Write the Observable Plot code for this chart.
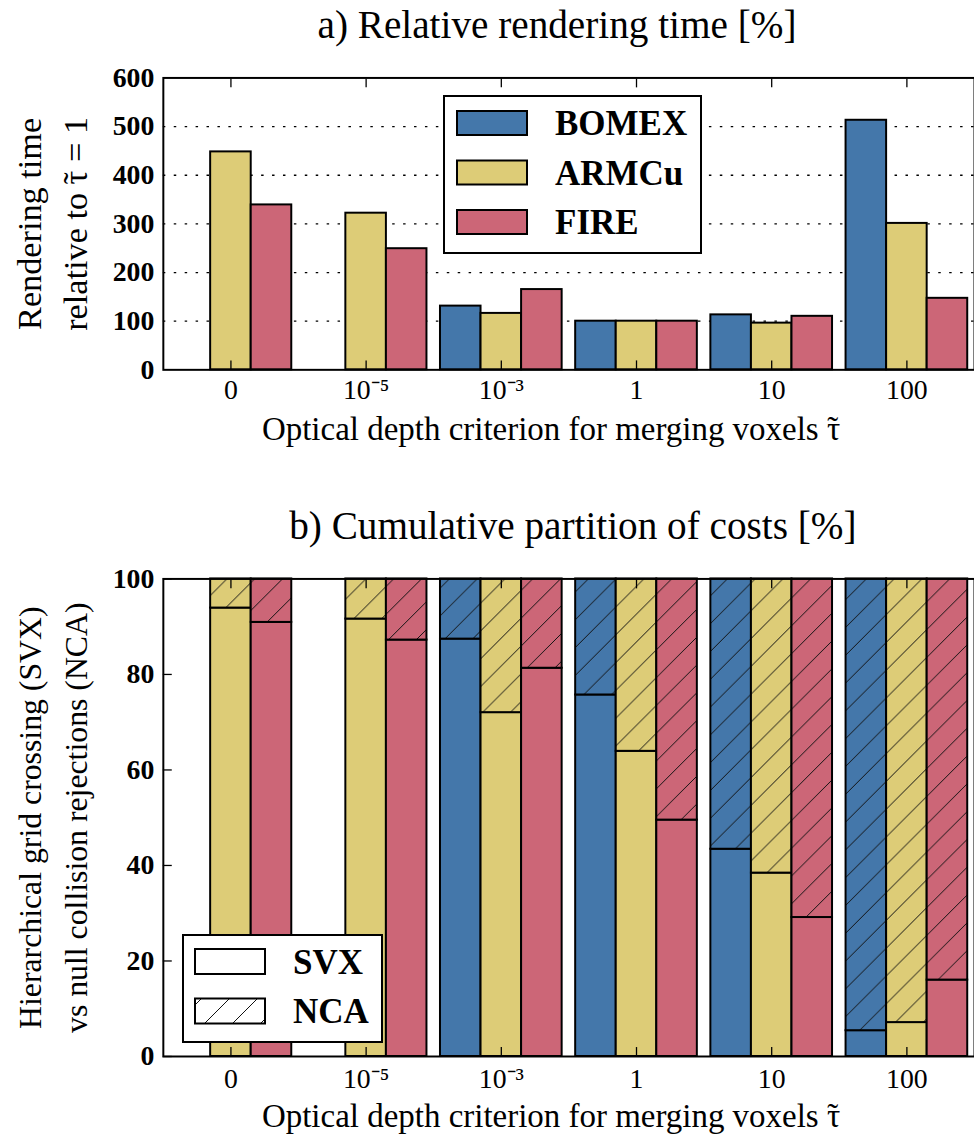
<!DOCTYPE html>
<html><head><meta charset="utf-8">
<script src="https://cdn.jsdelivr.net/npm/d3@7"></script>
<script src="https://cdn.jsdelivr.net/npm/@observablehq/plot@0.6"></script>
<style>
html,body{margin:0;padding:0;overflow:hidden;background:#fff;}
#page{position:relative;width:974px;height:1142px;overflow:hidden;font-family:"Liberation Serif",serif;color:#000;}
#page svg, #page svg text{font-family:"Liberation Serif",serif !important;}
.abs{position:absolute;left:0;}
</style></head><body><div id="page">
<svg id="defs" width="0" height="0" style="position:absolute;left:0;top:0"></svg>
<div id="chartA" class="abs" style="top:0"></div>
<div id="chartB" class="abs" style="top:500px"></div>
<div id="legendA" class="abs"></div>
<div id="legendB" class="abs"></div>
</div>
<script>
// ---------- data ----------
const categories = ["0", "10⁻⁵", "10⁻³", "1", "10", "100"];
const seriesNames = ["BOMEX", "ARMCu", "FIRE"];
const seriesColors = ["#4477AA", "#DDCC77", "#CC6677"];

// a) relative rendering time [%]
const timeBOMEX = [null, null, 131, 100, 113, 513];
const timeARMCu = [448, 322, 116, 100, 96, 301];
const timeFIRE  = [339, 249, 165, 100, 110, 147];

// b) SVX share [%] (rest up to 100 is NCA)
const svxBOMEX = [null, null, 87.4, 75.7, 43.4, 5.4];
const svxARMCu = [93.9, 91.6, 72.0, 63.9, 38.4, 7.1];
const svxFIRE  = [90.9, 87.2, 81.3, 49.5, 29.1, 16.0];
const totalShare = 100;

const partNames = ["SVX", "NCA"];
const yTicksA = [0, 100, 200, 300, 400, 500, 600];
const gridTicksA = [100, 200, 300, 400, 500];
const yTicksB = [0, 20, 40, 60, 80, 100];

const titleA = "a) Relative rendering time [%]";
const titleB = "b) Cumulative partition of costs [%]";
const xLabel = "Optical depth criterion for merging voxels τ̃";
const yLabelA = "Rendering time\nrelative to τ̃ = 1";
const yLabelB = "Hierarchical grid crossing (SVX)\nvs null collision rejections (NCA)";

// ---------- helpers ----------
const FONT = "Liberation Serif, serif";
const barWidth = 0.3;
const catIdx = d3.range(categories.length);
const barX1 = d => d.ci + (d.si - 1) * barWidth - barWidth / 2;
const barX2 = d => d.ci + (d.si - 1) * barWidth + barWidth / 2;

// hatch patterns
const H = 28;
const defs = d3.select("#defs").append("defs");
[...seriesColors, "#ffffff"].forEach((c, i) => {
  const p = defs.append("pattern").attr("id", "hatch" + i)
    .attr("patternUnits", "userSpaceOnUse").attr("width", H).attr("height", H);
  p.append("rect").attr("width", H).attr("height", H).attr("fill", c);
  p.append("path").attr("d", `M0,${H}L${H},0M${-H/2},${H/2}L${H/2},${-H/2}M${H/2},${H*1.5}L${H*1.5},${H/2}`)
    .attr("stroke", "#111").attr("stroke-width", 1);
});

// place the combining tilde over tau (font lacks mark positioning)
function fixTilde(root) {
  const NS = "http://www.w3.org/2000/svg";
  root.querySelectorAll("text, tspan").forEach(el => {
    if (el.childNodes.length !== 1 || el.firstChild.nodeType !== 3) return;
    const s = el.textContent;
    const k = s.indexOf("τ\u0303");
    if (k < 0) return;
    el.textContent = "";
    el.appendChild(document.createTextNode(s.slice(0, k + 1)));
    const t = document.createElementNS(NS, "tspan");
    t.setAttribute("dx", "-0.39em");
    t.textContent = "\u02DC";
    el.appendChild(t);
    const rest = s.slice(k + 2);
    if (rest) {
      const r = document.createElementNS(NS, "tspan");
      r.setAttribute("dx", "0.06em");
      r.textContent = rest;
      el.appendChild(r);
    }
  });
}

const common = {
  width: 981,
  marginLeft: 164,
  marginRight: 0,
  style: {fontFamily: FONT, fontSize: "28px", color: "#000", background: "transparent", overflow: "visible"},
  x: {type: "linear", domain: [-0.5, 5.5], axis: null},
};

function xAxes(pad) {
  return [
    Plot.axisX({ticks: catIdx, tickFormat: i => categories[i], tickSize: 0, tickPadding: pad, label: null, fontSize: 28, fontFamily: FONT}),
    Plot.axisX({ticks: catIdx, tickFormat: () => "", tickSize: -9, strokeWidth: 1.3, label: null}),
    Plot.axisX({anchor: "top", ticks: catIdx, tickFormat: () => "", tickSize: -9, strokeWidth: 1.3, label: null}),
  ];
}
function labels(title, ylab, ySize, titleDx) {
  return [
    Plot.text([title], {frameAnchor: "top", dx: titleDx, dy: -40, lineAnchor: "bottom", fontSize: 39.5, fontFamily: FONT}),
    Plot.text([xLabel], {frameAnchor: "bottom", dx: -18, dy: 71, lineAnchor: "bottom", fontSize: 33.2, fontFamily: FONT}),
    Plot.text([ylab], {frameAnchor: "left", rotate: -90, dx: -115, lineHeight: 46 / ySize, fontSize: ySize, fontFamily: FONT, textAnchor: "middle", lineAnchor: "middle"}),
  ];
}

// ---------- chart A ----------
const timeSeries = [timeBOMEX, timeARMCu, timeFIRE];
const timeRows = seriesNames.flatMap((s, si) => categories.map((c, ci) => ({ci, si, value: timeSeries[si][ci]})))
  .filter(d => d.value != null);

const chartA = Plot.plot({
  ...common,
  height: 452, marginTop: 78, marginBottom: 80,
  y: {domain: [0, 600], axis: null},
  color: {type: "identity"},
  marks: [
    Plot.gridY({ticks: gridTicksA, stroke: "#000", strokeOpacity: 1, strokeWidth: 1.3, strokeDasharray: "2.5,8.5"}),
    Plot.rectY(timeRows, {x1: barX1, x2: barX2, y1: 0, y2: "value", fill: d => seriesColors[d.si], stroke: "#000", strokeWidth: 2}),
    ...xAxes(9),
    Plot.axisY({ticks: yTicksA, tickSize: 0, tickPadding: 9, fontWeight: "bold", fontSize: 28, fontFamily: FONT, label: null}),
    Plot.frame({stroke: "#000", strokeWidth: 2}),
    ...labels(titleA, yLabelA, 34.5, -12),
  ]
});
document.getElementById("chartA").append(chartA);
fixTilde(chartA);

// ---------- chart B ----------
const svxSeries = [svxBOMEX, svxARMCu, svxFIRE];
const partRows = seriesNames.flatMap((s, si) => categories.flatMap((c, ci) => {
  const v = svxSeries[si][ci];
  if (v == null) return [];
  return [
    {ci, si, part: partNames[0], lo: 0, hi: v, fill: seriesColors[si]},
    {ci, si, part: partNames[1], lo: v, hi: totalShare, fill: `url(#hatch${si})`},
  ];
}));

const chartB = Plot.plot({
  ...common,
  height: 642, marginTop: 79, marginBottom: 82,
  y: {domain: [0, 100], axis: null},
  color: {type: "identity"},
  marks: [
    Plot.rectY(partRows, {x1: barX1, x2: barX2, y1: "lo", y2: "hi", fill: "fill", stroke: "#000", strokeWidth: 2}),
    ...xAxes(12),
    Plot.axisY({ticks: yTicksB, tickSize: 0, tickPadding: 9, fontWeight: "bold", fontSize: 28, fontFamily: FONT, label: null}),
    Plot.axisY({ticks: yTicksB, tickFormat: () => "", tickSize: -9, strokeWidth: 1.3, label: null}),
    Plot.frame({stroke: "#000", strokeWidth: 2}),
    ...labels(titleB, yLabelB, 32, 4),
  ]
});
document.getElementById("chartB").append(chartB);
fixTilde(chartB);

// ---------- legends ----------
function legend(id, left, top, w, h, items, rowY, swX, swW, swH, txX) {
  const div = document.getElementById(id);
  div.style.left = left + "px"; div.style.top = top + "px";
  const svg = d3.select(div).append("svg").attr("width", w).attr("height", h).style("display", "block");
  svg.append("rect").attr("x", 1).attr("y", 1).attr("width", w - 2).attr("height", h - 2)
    .attr("fill", "#fff").attr("stroke", "#000").attr("stroke-width", 2);
  items.forEach((it, i) => {
    const cy = rowY[0] + i * (rowY[1] - rowY[0]);
    svg.append("rect").attr("x", swX).attr("y", cy - swH / 2).attr("width", swW).attr("height", swH)
      .attr("fill", it.fill).attr("stroke", "#000").attr("stroke-width", 2);
    svg.append("text").attr("x", txX).attr("y", cy).attr("dy", "0.35em")
      .attr("font-family", FONT).attr("font-weight", "bold").attr("font-size", 35)
      .text(it.label);
  });
}
legend("legendA", 443, 95, 259, 159, seriesNames.map((s, i) => ({label: s, fill: seriesColors[i]})),
  [28, 77.5], 14, 70, 24, 112);
legend("legendB", 182, 934, 201, 109, partNames.map((s, i) => ({label: s, fill: i === 0 ? "#ffffff" : "url(#hatch3)"})),
  [27.5, 77], 13, 70, 25, 111);
</script>
</body></html>
